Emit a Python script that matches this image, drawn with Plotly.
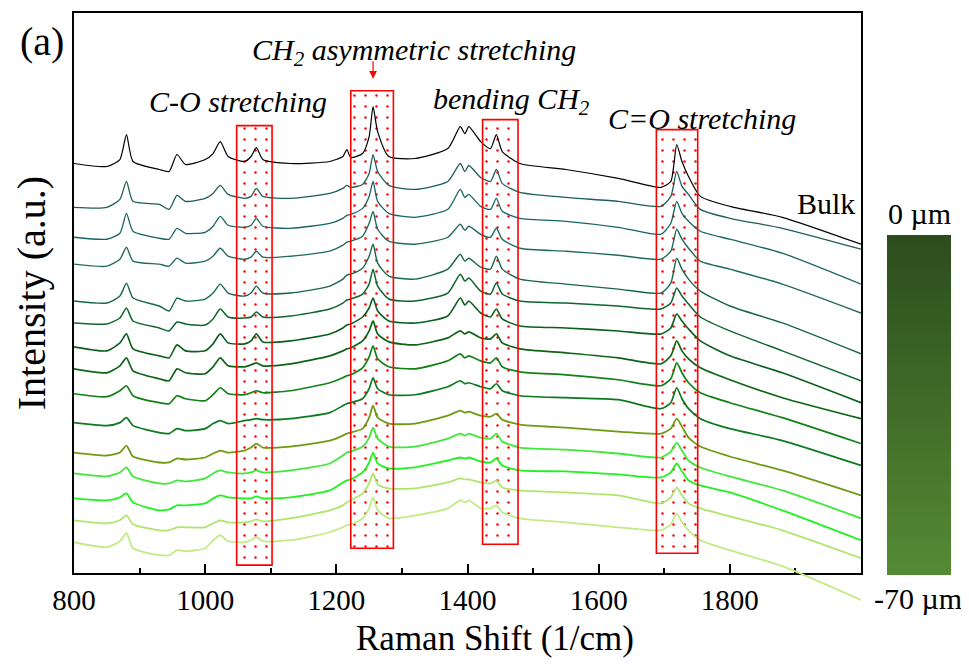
import plotly.graph_objects as go

# ---------------- data (intensity in a.u.) ----------------
wavenumber = [800, 850, 870, 880, 890, 930, 945, 957, 970, 1000, 1012, 1023, 1035, 1060, 1070, 1078,
              1088, 1130, 1190, 1210, 1216, 1222, 1240, 1250, 1256, 1263, 1280, 1320, 1370, 1389, 1396,
              1402, 1420, 1435, 1444, 1453, 1480, 1550, 1630, 1695, 1710, 1719, 1727, 1737, 1755, 1800,
              1880, 2000]

spec_bulk = [438, 435, 442, 467, 440, 432, 430, 447, 437, 442, 448, 460, 445, 440, 445, 454, 442, 438, 440, 445,
             452, 444, 448, 465, 495, 470, 445, 443, 453, 475, 468, 475, 460, 453, 467, 450, 438, 432, 423, 414,
             420, 457, 440, 425, 405, 395, 384, 357]
spec_01 = [394, 394, 402, 420, 400, 397, 392, 406, 400, 403, 408, 416, 407, 403, 405, 413, 405, 403, 408, 413,
           416, 414, 417, 428, 447, 430, 416, 412, 420, 438, 430, 436, 424, 420, 432, 418, 409, 404, 400, 395,
           405, 430, 415, 407, 392, 383, 373, 352]
spec_02 = [364, 362, 368, 388, 370, 363, 362, 373, 368, 369, 375, 385, 376, 374, 376, 383, 375, 373, 378, 383,
           386, 387, 393, 405, 420, 400, 388, 384, 392, 412, 404, 407, 395, 392, 403, 390, 383, 380, 374, 367,
           378, 400, 388, 380, 370, 362, 348, 317]
spec_03 = [337, 335, 342, 354, 340, 337, 335, 343, 338, 340, 345, 353, 345, 342, 344, 350, 344, 345, 350, 356,
           359, 360, 365, 378, 390, 372, 360, 357, 364, 377, 371, 375, 367, 364, 373, 362, 353, 350, 346, 342,
           350, 372, 362, 353, 340, 332, 317, 288]
spec_04 = [300, 298, 305, 318, 303, 295, 290, 303, 300, 302, 308, 317, 308, 305, 308, 315, 308, 308, 315, 322,
           326, 327, 333, 345, 357, 338, 325, 322, 332, 347, 340, 343, 334, 332, 345, 332, 322, 317, 312, 308,
           318, 343, 332, 322, 310, 295, 278, 247]
spec_05 = [278, 277, 283, 293, 280, 273, 270, 279, 277, 276, 282, 292, 284, 283, 284, 289, 284, 285, 292, 298,
           301, 302, 307, 317, 332, 315, 302, 300, 308, 327, 320, 323, 310, 307, 318, 307, 300, 298, 295, 292,
           298, 313, 305, 297, 284, 270, 250, 220]
spec_06 = [254, 250, 258, 267, 252, 245, 243, 256, 250, 250, 257, 267, 258, 257, 260, 267, 259, 260, 267, 273,
           276, 277, 284, 293, 303, 290, 280, 278, 285, 303, 296, 300, 288, 284, 292, 282, 275, 273, 270, 267,
           273, 287, 280, 272, 260, 245, 228, 198]
spec_07 = [232, 228, 235, 243, 230, 222, 220, 232, 228, 227, 234, 243, 235, 234, 236, 238, 235, 237, 245, 250,
           252, 253, 260, 270, 280, 267, 259, 256, 263, 270, 267, 269, 263, 262, 267, 258, 252, 248, 243, 237,
           245, 260, 250, 242, 233, 221, 203, 182]
spec_08 = [207, 204, 210, 215, 205, 198, 197, 205, 202, 200, 206, 213, 207, 206, 208, 210, 208, 210, 218, 223,
           225, 226, 233, 244, 255, 242, 234, 232, 240, 247, 243, 245, 240, 238, 243, 234, 229, 226, 221, 215,
           222, 238, 228, 218, 208, 198, 183, 157]
spec_09 = [178, 175, 178, 183, 175, 168, 167, 172, 170, 172, 177, 180, 177, 180, 181, 182, 181, 182, 188, 195,
           197, 198, 202, 212, 223, 212, 206, 206, 214, 220, 217, 218, 214, 212, 217, 210, 205, 203, 201, 192,
           198, 213, 202, 192, 182, 172, 160, 135]
spec_10 = [148, 145, 148, 155, 144, 138, 138, 142, 141, 143, 147, 150, 148, 150, 153, 157, 153, 154, 160, 165,
           167, 168, 172, 183, 195, 183, 177, 177, 185, 190, 188, 189, 185, 184, 187, 181, 176, 173, 169, 167,
           172, 182, 174, 163, 154, 144, 130, 105]
spec_11 = [127, 124, 128, 133, 124, 117, 117, 120, 119, 122, 127, 130, 128, 127, 128, 130, 128, 130, 137, 145,
           148, 149, 154, 163, 173, 162, 154, 154, 162, 167, 165, 167, 163, 162, 167, 159, 153, 151, 147, 143,
           149, 158, 150, 140, 133, 124, 110, 82]
spec_12 = [102, 100, 103, 107, 98, 90, 91, 95, 95, 97, 102, 105, 103, 102, 102, 104, 102, 103, 110, 118,
           120, 121, 128, 138, 148, 137, 132, 133, 140, 143, 142, 143, 139, 138, 142, 135, 130, 129, 126, 123,
           128, 137, 129, 120, 115, 108, 90, 60]
spec_13 = [80, 77, 80, 85, 76, 70, 70, 73, 73, 73, 77, 80, 78, 78, 79, 81, 79, 82, 90, 95,
           98, 100, 107, 117, 127, 116, 112, 112, 118, 122, 121, 121, 118, 117, 120, 113, 110, 108, 105, 97,
           103, 113, 105, 97, 92, 84, 70, 42]
spec_14 = [58, 53, 59, 67, 52, 45, 45, 50, 49, 52, 60, 65, 59, 58, 60, 63, 59, 60, 68, 73,
           75, 76, 82, 92, 103, 90, 82, 85, 92, 100, 98, 100, 92, 92, 95, 88, 82, 78, 73, 70,
           76, 87, 78, 70, 60, 50, 34, 0]

spectra = [spec_bulk, spec_01, spec_02, spec_03, spec_04, spec_05, spec_06, spec_07,
           spec_08, spec_09, spec_10, spec_11, spec_12, spec_13, spec_14]
spectrum_names = ["Bulk"] + ["Depth %d" % i for i in range(1, 15)]
spectrum_colors = ["#000000", "#1d5f58", "#176463", "#1f6b5e", "#18664c", "#0f6530", "#0b5f1c",
                   "#0e6415", "#128218", "#0c7a1c", "#6e9b12", "#3fe83a", "#1ff21f", "#b0e56c", "#c2eb84"]
spectrum_widths = [1.2, 1.3, 1.3, 1.4, 1.4, 1.5, 1.6, 1.7, 1.7, 1.7, 1.8, 1.8, 1.8, 1.8, 1.8]

# highlighted bands
band_labels = ["C-O stretching", "CH<sub>2</sub> asymmetric stretching", "bending CH<sub>2</sub>", "C=O stretching"]
band_x0 = [1048, 1222, 1423, 1688]
band_x1 = [1102, 1287, 1477, 1751]
band_y0 = [35, 52, 56, 47]
band_y1 = [476, 511, 482, 472]
arrow_peak = 1256

tick_major = [800, 1000, 1200, 1400, 1600, 1800]
tick_minor = [900, 1100, 1300, 1500, 1700, 1900]
x_range = [800, 2000]

depth_min, depth_max = -70, 0

FONT = "Liberation Serif"

fig = go.Figure()

# dotted band fills (under spectra)
for x0, x1, y0, y1 in zip(band_x0, band_x1, band_y0, band_y1):
    fig.add_trace(go.Scatter(
        x=[x0, x1, x1, x0, x0], y=[y0, y0, y1, y1, y0], xaxis="x", yaxis="y2",
        mode="lines", line=dict(width=0), fill="toself", fillcolor="rgba(255,255,255,0)",
        fillpattern=dict(shape=".", fgcolor="#ff0000", bgcolor="rgba(255,255,255,0)",
                         size=11, solidity=0.04, fillmode="replace"),
        showlegend=False, hoverinfo="skip"))

# spectra
for name, ys, col, w in zip(spectrum_names, spectra, spectrum_colors, spectrum_widths):
    fig.add_trace(go.Scatter(
        x=wavenumber, y=ys, xaxis="x", yaxis="y2", mode="lines", name=name,
        line=dict(color=col, width=w, shape="spline", smoothing=0.6),
        showlegend=False))

# colour bar for the depth
fig.add_trace(go.Scatter(
    x=[None], y=[None], mode="markers", showlegend=False, hoverinfo="skip",
    marker=dict(size=0, color=[depth_max], cmin=depth_min, cmax=depth_max,
                colorscale=[[0, "#558b34"], [1, "#2c4c1d"]], showscale=True,
                colorbar=dict(x=1.033, xanchor="left", xpad=0, y=0.0584, yanchor="bottom", ypad=0,
                              len=340, lenmode="pixels", thickness=64, outlinewidth=0,
                              showticklabels=False, ticks=""))))

# band outlines
shapes = []
for x0, x1, y0, y1 in zip(band_x0, band_x1, band_y0, band_y1):
    shapes.append(dict(type="rect", xref="x", yref="y2", x0=x0, x1=x1, y0=y0, y1=y1,
                       line=dict(color="#ff0000", width=1.6), fillcolor="rgba(0,0,0,0)", layer="above"))

def ann(text, x, y, size, italic=False, **kw):
    d = dict(text=text, x=x, y=y, xref="paper", yref="paper", showarrow=False,
             xanchor="center", yanchor="middle",
             font=dict(family=FONT, size=size, color="black",
                       style="italic" if italic else "normal"))
    d.update(kw)
    return d

annotations = [
    ann("(a)", -0.0407, 0.952, 40),
    ann("Intensity (a.u.)", -0.053, 0.531, 40, textangle=-90),
    ann("Raman Shift (1/cm)", 0.535, -0.048, 35),
    ann(band_labels[0], 0.2084, 0.852, 30, italic=True),
    ann(band_labels[1], 0.432, 0.935, 30, italic=True),
    ann(band_labels[2], 0.5553, 0.852, 30, italic=True),
    ann(band_labels[3], 0.798, 0.823, 30, italic=True),
    ann("Bulk", 0.9555, 0.681, 30),
    ann("0 µm", 1.0737, 0.664, 30),
    ann("-70 µm", 1.0724, 0.02, 30),
    dict(x=arrow_peak, xref="x", y=0.8898, yref="paper", text="", showarrow=True,
         ax=0, ay=-19, arrowcolor="#ff0000", arrowhead=2, arrowsize=1.3, arrowwidth=1.2),
]

axis_common = dict(showgrid=False, zeroline=False)

# page body has an 8 px margin: the figure is 8 px smaller than the window on each axis
fig.update_layout(
    width=961, height=657,
    margin=dict(l=66, r=108, t=3, b=55),
    paper_bgcolor="white", plot_bgcolor="rgba(0,0,0,0)",
    showlegend=False,
    xaxis=dict(range=x_range, anchor="y", showline=True, linecolor="black", linewidth=2, mirror=True,
               ticks="inside", ticklen=9, tickwidth=1.5, tickcolor="black",
               tickvals=tick_major, ticktext=[str(v) for v in tick_major],
               tickfont=dict(family=FONT, size=29, color="black"),
               minor=dict(tickvals=tick_minor, ticks="inside", ticklen=5, tickwidth=1.5, tickcolor="black"),
               **axis_common),
    xaxis2=dict(range=x_range, overlaying="x", side="top", anchor="y", showline=False,
                ticks="inside", ticklen=9, tickwidth=1.5, tickcolor="black",
                tickvals=tick_major, showticklabels=False,
                minor=dict(tickvals=tick_minor, ticks="inside", ticklen=5, tickwidth=1.5, tickcolor="black"),
                **axis_common),
    yaxis=dict(domain=[37 / 599, 1], range=[27, 589], showline=True, linecolor="black", linewidth=2,
               mirror=True, ticks="", showticklabels=False, **axis_common),
    yaxis2=dict(domain=[0, 1], range=[-10, 589], anchor="x", visible=False, **axis_common),
    shapes=shapes,
    annotations=annotations,
)

fig.write_html("out.html")
